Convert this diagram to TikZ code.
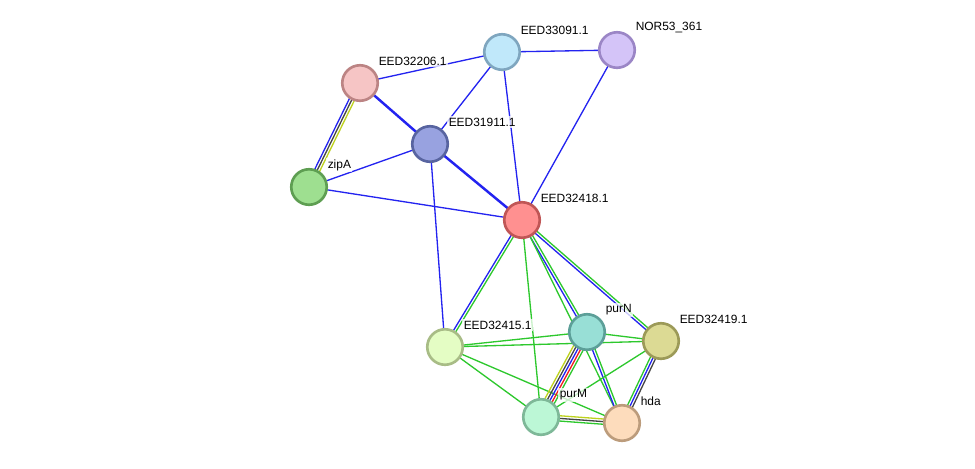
\documentclass[tikz,border=0pt]{standalone}
\usepackage{fontspec}
\setmainfont{Liberation Sans}
\usetikzlibrary{calc,backgrounds}

% edge colours
\definecolor{snblue}{RGB}{35,35,240}
\definecolor{sngreen}{RGB}{45,200,45}
\definecolor{snblack}{RGB}{70,70,70}
\definecolor{snyellow}{RGB}{190,210,30}
\definecolor{snred}{RGB}{240,30,30}

% node colours (fill / border)
\definecolor{fA}{RGB}{192,232,250} \definecolor{dA}{RGB}{127,166,191}
\definecolor{fB}{RGB}{212,196,248} \definecolor{dB}{RGB}{155,134,198}
\definecolor{fC}{RGB}{246,197,197} \definecolor{dC}{RGB}{188,132,132}
\definecolor{fD}{RGB}{152,162,224} \definecolor{dD}{RGB}{88,100,160}
\definecolor{fE}{RGB}{158,223,144} \definecolor{dE}{RGB}{94,158,82}
\definecolor{fF}{RGB}{255,144,144} \definecolor{dF}{RGB}{192,86,86}
\definecolor{fG}{RGB}{228,253,196} \definecolor{dG}{RGB}{168,188,134}
\definecolor{fH}{RGB}{152,223,214} \definecolor{dH}{RGB}{92,159,152}
\definecolor{fI}{RGB}{220,218,148} \definecolor{dI}{RGB}{156,154,88}
\definecolor{fJ}{RGB}{188,247,214} \definecolor{dJ}{RGB}{126,184,152}
\definecolor{fK}{RGB}{253,220,188} \definecolor{dK}{RGB}{188,156,124}

% \evid[width]{a}{b}{colours}: parallel evidence lines from a to b
\newcommand{\evid}[4][0.75pt]{%
  \foreach \c [count=\i] in {#4} {\xdef\nev{\i}}%
  \foreach \c [count=\i] in {#4} {%
    \pgfmathsetmacro\ofs{(\i-(\nev+1)/2)*1.5}%
    \draw[\c, line width=#1]
      ($(#2.center)!\ofs pt!90:(#3.center)$) -- ($(#3.center)!\ofs pt!-90:(#2.center)$);
  }%
}

\tikzset{
  gene/.style 2 args={circle, minimum size=0.71cm, inner sep=0pt,
    line width=1.5pt, fill=#1, draw=#2},
  lbl/.style={font=\fontsize{6.8}{8}\selectfont, anchor=west, inner sep=0.8pt,
    fill=white, fill opacity=0.75, text opacity=1},
}

\begin{document}
\begin{tikzpicture}[x=0.02cm,y=-0.02cm]
  \useasboundingbox (0,0) rectangle (975,468);

  % Nodes
  \node[gene={fA}{dA}] (e091) at (502,52) {};
  \node[gene={fB}{dB}] (nor) at (617,50) {};
  \node[gene={fC}{dC}] (e206) at (360,83) {};
  \node[gene={fD}{dD}] (e911) at (430,144) {};
  \node[gene={fE}{dE}] (zipA) at (309,187) {};
  \node[gene={fF}{dF}] (e418) at (522,220) {};
  \node[gene={fG}{dG}] (e415) at (445,347) {};
  \node[gene={fH}{dH}] (purN) at (587,332) {};
  \node[gene={fI}{dI}] (e419) at (661,341) {};
  \node[gene={fJ}{dJ}] (purM) at (541,417) {};
  \node[gene={fK}{dK}] (hda) at (622,423) {};

  % Labels
  \node[lbl] (e091l) at ($(e091)+(17,-22)$) {EED33091.1};
  \node[lbl] (norl) at ($(nor)+(17,-22)$) {NOR53\_361};
  \node[lbl] (e206l) at ($(e206)+(17,-22)$) {EED32206.1};
  \node[lbl] (e911l) at ($(e911)+(17,-22)$) {EED31911.1};
  \node[lbl] (zipAl) at ($(zipA)+(17,-22)$) {zipA};
  \node[lbl] (e418l) at ($(e418)+(17,-22)$) {EED32418.1};
  \node[lbl] (e415l) at ($(e415)+(17,-22)$) {EED32415.1};
  \node[lbl] (purNl) at ($(purN)+(17,-22)$) {purN};
  \node[lbl] (e419l) at ($(e419)+(17,-22)$) {EED32419.1};
  \node[lbl] (purMl) at ($(purM)+(17,-22)$) {purM};
  \node[lbl] (hdal) at ($(hda)+(17,-22)$) {hda};

  % Edges
  \begin{pgfonlayer}{background}
    \fill[white] (0,0) rectangle (975,468);
    \evid{e206}{e091}{snblue}
    \evid[1.4pt]{e206}{e911}{snblue}
    \evid{e206}{zipA}{snblue,snblack,snyellow}
    \evid{e091}{nor}{snblue}
    \evid{e091}{e911}{snblue}
    \evid{e091}{e418}{snblue}
    \evid{nor}{e418}{snblue}
    \evid{e911}{zipA}{snblue}
    \evid[1.4pt]{e911}{e418}{snblue}
    \evid{e911}{e415}{snblue}
    \evid{zipA}{e418}{snblue}
    \evid{e418}{e415}{snblue,sngreen}
    \evid{e418}{purN}{snblue,sngreen}
    \evid{e418}{hda}{sngreen}
    \evid{e418}{e419}{snblue,sngreen}
    \evid{e418}{purM}{sngreen}
    \evid{e415}{purN}{sngreen}
    \evid{e415}{e419}{sngreen}
    \evid{e415}{purM}{sngreen}
    \evid{e415}{hda}{sngreen}
    \evid{purN}{e419}{sngreen}
    \evid{purN}{purM}{snyellow,snblack,snblue,snred,sngreen}
    \evid{purN}{hda}{snblue,sngreen}
    \evid{e419}{hda}{sngreen,snblue,snblack}
    \evid{e419}{purM}{sngreen}
    \evid{purM}{hda}{sngreen,snblack,snyellow}
  \end{pgfonlayer}
\end{tikzpicture}
\end{document}
